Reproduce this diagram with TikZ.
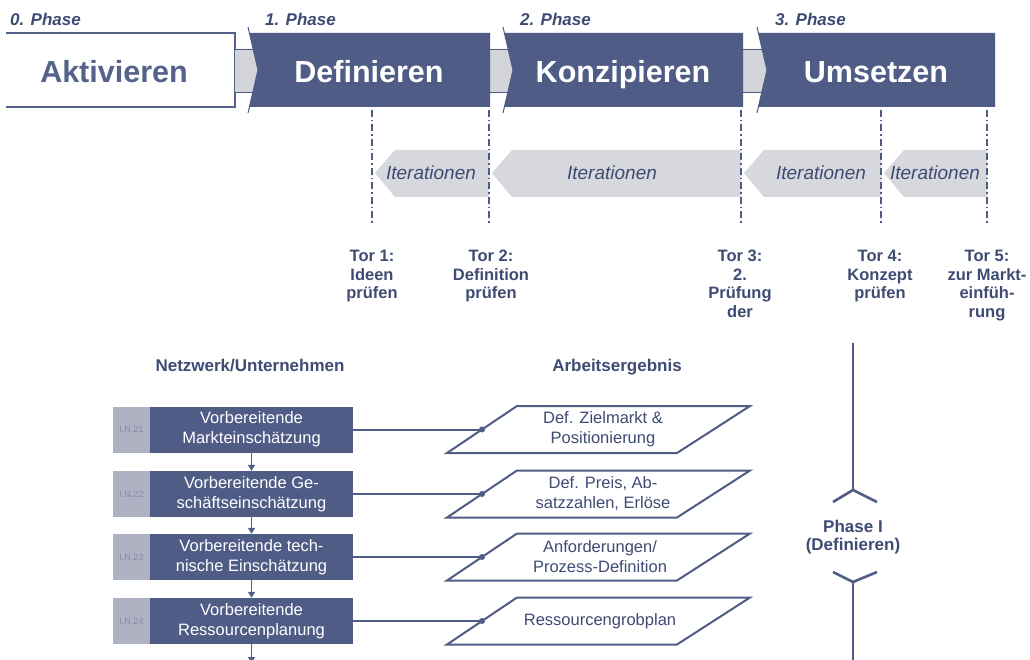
\documentclass[tikz,border=0pt]{standalone}
\usepackage{fontspec}
\setmainfont{Liberation Sans}
\usetikzlibrary{arrows.meta}
\definecolor{dk}{HTML}{4F5C85}
\definecolor{txt}{HTML}{3F4B73}
\definecolor{aktc}{HTML}{55628A}
\definecolor{conn}{HTML}{D2D4DA}
\definecolor{iter}{HTML}{D6D8DE}
\definecolor{tagc}{HTML}{AEB2C3}
\definecolor{tagt}{HTML}{858CA5}
\newcommand{\fsz}[2]{\fontsize{#1}{#2}\selectfont}
\begin{document}
\begin{tikzpicture}[x=1pt,y=-1pt,
  bigtxt/.style={font=\fsz{30.5}{31}\bfseries, inner sep=0pt, anchor=base},
  phlab/.style={font=\fsz{17}{17}\bfseries\itshape, text=txt, inner sep=0pt, anchor=base west},
  itertxt/.style={font=\fsz{19}{19}\itshape, text=txt, inner sep=0pt},
  gatetxt/.style={font=\fsz{16.5}{18.5}\bfseries, text=txt, inner sep=0pt, align=center, anchor=north},
  head/.style={font=\fsz{17}{18}\bfseries, text=txt, inner sep=0pt, anchor=base},
  stepbox/.style={fill=dk, text=white, minimum width=203pt, minimum height=46pt, inner sep=0pt, align=center, font=\fsz{16.5}{20}},
  tagbox/.style={fill=tagc, text=tagt, minimum width=37pt, minimum height=46pt, inner sep=0pt, font=\fsz{9}{9}},
  ptxt/.style={text=txt, align=center, font=\fsz{16.5}{20}, inner sep=0pt},
  para/.style={draw=dk, line width=2pt, fill=white, line join=miter},
  link/.style={draw=dk, line width=2pt},
  gate/.style={draw=dk, line width=1.8pt, dash pattern=on 7pt off 3pt on 1.5pt off 3pt},
  flow/.style={draw=dk, line width=1.8pt, -{Triangle[length=6pt,width=7pt]}},
  vline/.style={draw=dk, line width=2.6pt},
  dot/.style={fill=dk}
]
\useasboundingbox (0,0) rectangle (1030,660);
\fill[white] (0,0) rectangle (1030,660);

% ---------- phase bar ----------
\node[phlab] (p0) at (10,26) {0. Phase};
\node[phlab] (p1) at (265,26) {1. Phase};
\node[phlab] (p2) at (520,26) {2. Phase};
\node[phlab] (p3) at (775,26) {3. Phase};

% Aktivieren (white)
\draw[aktc, line width=1.4pt] (6,33) -- (235,33) -- (235,107) -- (6,107);

% connectors (gray)
\fill[conn] (235,49) -- (253,49) -- (258,70) -- (253,92) -- (235,92) -- cycle;
\draw[dk, line width=0.9pt] (235,49) -- (253,49) (235,92) -- (253,92);
\fill[conn] (490,49) -- (508,49) -- (513,70) -- (508,92) -- (490,92) -- cycle;
\draw[dk, line width=0.9pt] (490,49) -- (508,49) (490,92) -- (508,92);
\fill[conn] (743,49) -- (762,49) -- (767,70) -- (762,92) -- (743,92) -- cycle;
\draw[dk, line width=0.9pt] (743,49) -- (762,49) (743,92) -- (762,92);

% dark boxes
\fill[dk] (249.4,33) -- (490,33) -- (490,107) -- (249.4,107) -- (258,70) -- cycle;
\draw[dk, line width=1pt] (248,27) -- (258,70) -- (248,113);
\fill[dk] (504.4,33) -- (743,33) -- (743,107) -- (504.4,107) -- (513,70) -- cycle;
\draw[dk, line width=1pt] (503,27) -- (513,70) -- (503,113);
\fill[dk] (758.4,33) -- (995,33) -- (995,107) -- (758.4,107) -- (767,70) -- cycle;
\draw[dk, line width=1pt] (757,27) -- (767,70) -- (757,113);

\node[bigtxt, text=aktc] (akt) at (114,83) {Aktivieren};
\node[bigtxt, text=white] (def) at (369,83) {Definieren};
\node[bigtxt, text=white] (kon) at (623,83) {Konzipieren};
\node[bigtxt, text=white] (ums) at (876,83) {Umsetzen};

% ---------- iterations ----------
\fill[iter] (375,173) -- (395,150) -- (489,150) -- (489,197) -- (395,197) -- cycle;
\fill[iter] (492,173) -- (512,150) -- (741,150) -- (741,197) -- (512,197) -- cycle;
\fill[iter] (744,173) -- (764,150) -- (881,150) -- (881,197) -- (764,197) -- cycle;
\fill[iter] (884,173) -- (904,150) -- (987,150) -- (987,197) -- (904,197) -- cycle;
\node[itertxt] (it1) at (431,173) {Iterationen};
\node[itertxt] (it2) at (612,173) {Iterationen};
\node[itertxt] (it3) at (821,173) {Iterationen};
\node[itertxt] (it4) at (935,173) {Iterationen};

% gates
\coordinate (g1a) at (372,110); \coordinate (g1b) at (372,226);
\coordinate (g2a) at (489,110); \coordinate (g2b) at (489,226);
\coordinate (g3a) at (741,110); \coordinate (g3b) at (741,226);
\coordinate (g4a) at (881,110); \coordinate (g4b) at (881,226);
\coordinate (g5a) at (987,110); \coordinate (g5b) at (987,226);
\draw[gate] (g1a) -- (g1b);
\draw[gate] (g2a) -- (g2b);
\draw[gate] (g3a) -- (g3b);
\draw[gate] (g4a) -- (g4b);
\draw[gate] (g5a) -- (g5b);

\node[gatetxt] (tor1) at (372,250) {Tor 1:\\Ideen\\prüfen};
\node[gatetxt] (tor2) at (491,250) {Tor 2:\\Definition\\prüfen};
\node[gatetxt] (tor3) at (740,250) {Tor 3:\\2.\\Prüfung\\der};
\node[gatetxt] (tor4) at (880,250) {Tor 4:\\Konzept\\prüfen};
\node[gatetxt] (tor5) at (987,250) {Tor 5:\\zur Markt-\\einfüh-\\rung};

% ---------- lower part ----------
\node[head] (hnet) at (250,371) {Netzwerk/Unternehmen};
\node[head] (harb) at (617,371) {Arbeitsergebnis};

\node[tagbox] (t1) at (131.5,429.5) {I.N.21};
\node[tagbox] (t2) at (131.5,494) {I.N.22};
\node[tagbox] (t3) at (131.5,557) {I.N.23};
\node[tagbox] (t4) at (131.5,621) {I.N.24};

\node[stepbox] (b1) at (251.5,429.5) {Vorbereitende\\Markteinschätzung};
\node[stepbox] (b2) at (251.5,494) {Vorbereitende Ge-\\schäftseinschätzung};
\node[stepbox] (b3) at (251.5,557) {Vorbereitende tech-\\nische Einschätzung};
\node[stepbox] (b4) at (251.5,621) {Vorbereitende\\Ressourcenplanung};

\draw[flow] (b1.south) -- (b2.north);
\draw[flow] (b2.south) -- (b3.north);
\draw[flow] (b3.south) -- (b4.north);
\coordinate (bend) at (251.5,663);
\draw[flow] (b4.south) -- (bend);

% parallelograms
\draw[para] (447,453) -- (677,453) -- (750,406) -- (517,406) -- cycle;
\draw[para] (447,517.5) -- (677,517.5) -- (750,470.5) -- (517,470.5) -- cycle;
\draw[para] (447,580.5) -- (677,580.5) -- (750,533.5) -- (517,533.5) -- cycle;
\draw[para] (447,644.5) -- (677,644.5) -- (750,597.5) -- (517,597.5) -- cycle;
\coordinate (q1) at (482,429.5);
\coordinate (q2) at (482,494);
\coordinate (q3) at (482,557);
\coordinate (q4) at (482,621);

\node[ptxt] (r1) at (603,429.5) {Def. Zielmarkt \&\\Positionierung};
\node[ptxt] (r2) at (603,494) {Def. Preis, Ab-\\satzzahlen, Erlöse};
\node[ptxt] (r3) at (600,557) {Anforderungen/\\Prozess-Definition};
\node[ptxt] (r4) at (600,621) {Ressourcengrobplan};

\draw[link] (b1.east) -- (q1);
\draw[link] (b2.east) -- (q2);
\draw[link] (b3.east) -- (q3);
\draw[link] (b4.east) -- (q4);
\fill[dot] (q1) circle (3pt);
\fill[dot] (q2) circle (3pt);
\fill[dot] (q3) circle (3pt);
\fill[dot] (q4) circle (3pt);

% phase I bracket
\coordinate (v0) at (853,343);
\coordinate (v1) at (853,490);
\coordinate (v2) at (853,582);
\coordinate (v3) at (853,663);
\draw[vline] (v0) -- (v1);
\draw[vline] (833,502) -- (v1) -- (877,502);
\node[head, align=center, anchor=north] (ph) at (853,520) {Phase I\\(Definieren)};
\draw[vline] (833,572) -- (v2) -- (877,572);
\draw[vline] (v2) -- (v3);
\end{tikzpicture}
\end{document}
